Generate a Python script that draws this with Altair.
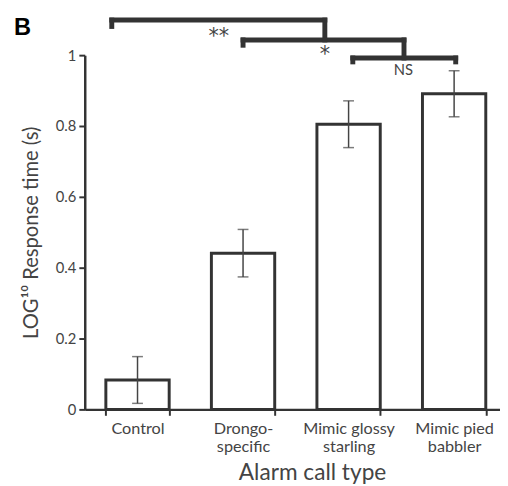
import altair as alt
import pandas as pd

# ---- data ----
categories = ["Control", "Drongo-|specific", "Mimic glossy|starling", "Mimic pied|babbler"]
means = [0.083, 0.441, 0.805, 0.891]
errors = [0.066, 0.067, 0.066, 0.065]

# significance brackets (x in category units, 0..4; y in LOG10 response time units)
h_x1 = [0.256, 1.50, 2.54]
h_x2 = [2.275, 3.025, 3.515]
h_y = [1.099, 1.043, 0.992]

v_x = [0.256, 2.275, 1.50, 3.025, 2.54, 3.515]
v_y = [1.099, 1.099, 1.043, 1.043, 0.992, 0.992]
v_y2 = [1.081, 1.043, 1.028, 0.992, 0.981, 0.981]

star_labels = ["**", "*"]
star_x = [1.27, 2.275]
star_y = [1.052, 0.999]

ns_labels = ["NS"]
ns_x = [3.02]
ns_y = [0.958]

panel_label = ["B"]
panel_x = [-0.671]
panel_y = [1.056]

FONT = "Lato"
DARK = "#333333"
GREY = "#444444"

df = pd.DataFrame({
    "cat": categories,
    "mean": means,
    "lo": [m - e for m, e in zip(means, errors)],
    "hi": [m + e for m, e in zip(means, errors)],
})
hdf = pd.DataFrame({"x1": h_x1, "x2": h_x2, "y": h_y})
vdf = pd.DataFrame({"x": v_x, "y": v_y, "y2": v_y2})
stars = pd.DataFrame({"t": star_labels, "x": star_x, "y": star_y})
nsdf = pd.DataFrame({"t": ns_labels, "x": ns_x, "y": ns_y})
pdf = pd.DataFrame({"t": panel_label, "x": panel_x, "y": panel_y})

yscale = alt.Scale(domain=[0, 1], nice=False, zero=True)
xband = alt.Scale(range=[0, 429], paddingInner=0.4, paddingOuter=0.2)
xq = alt.Scale(domain=[0, 4], range=[0, 429], nice=False, zero=False)

x_axis = alt.Axis(
    title="Alarm call type", labelAngle=0, tickBand="extent",
    labelExpr="split(datum.label, '|')", labelFont=FONT, labelFontSize=16.5,
    labelColor=GREY, labelLineHeight=18, labelPadding=6,
    tickSize=6, tickWidth=2, tickColor=DARK, domainColor=DARK, domainWidth=2.5,
    titleFont=FONT, titleFontSize=23, titleFontWeight="normal", titleColor=GREY,
    titleX=231, titleY=71, titleBaseline="alphabetic", titleAlign="center",
    grid=False,
)
y_axis = alt.Axis(
    title="LOG\u00b9\u2070 Response time (s)", values=[0, 0.2, 0.4, 0.6, 0.8, 1],
    format="~g", labelFont=FONT, labelFontSize=15, labelColor=GREY, labelPadding=3,
    tickSize=6, tickWidth=2, tickColor=DARK, domainColor=DARK, domainWidth=2.5,
    titleFont=FONT, titleFontSize=20.5, titleFontWeight="normal", titleColor=GREY,
    titleX=-48, titleY=180, titleAngle=270, titleBaseline="alphabetic", titleAlign="center",
    grid=False,
)

base = alt.Chart(df)
bars = base.mark_bar(fill="white", stroke=DARK, strokeWidth=3).encode(
    x=alt.X("cat:N", sort=categories, scale=xband, axis=x_axis),
    y=alt.Y("mean:Q", scale=yscale, axis=y_axis),
)
stems = base.mark_rule(color=GREY, strokeWidth=1.5).encode(
    x=alt.X("cat:N", sort=categories), y=alt.Y("lo:Q"), y2="hi:Q"
)
cap_lo = base.mark_tick(color=GREY, thickness=1.5, size=11, orient="horizontal").encode(
    x=alt.X("cat:N", sort=categories), y=alt.Y("lo:Q")
)
cap_hi = base.mark_tick(color=GREY, thickness=1.5, size=11, orient="horizontal").encode(
    x=alt.X("cat:N", sort=categories), y=alt.Y("hi:Q")
)
data_layer = alt.layer(bars, stems, cap_lo, cap_hi)

hrules = alt.Chart(hdf).mark_rule(color=DARK, strokeWidth=5, strokeCap="square").encode(
    x=alt.X("x1:Q", scale=xq, axis=None), x2="x2:Q", y=alt.Y("y:Q", scale=yscale)
)
vrules = alt.Chart(vdf).mark_rule(color=DARK, strokeWidth=5, strokeCap="square").encode(
    x=alt.X("x:Q", scale=xq, axis=None), y=alt.Y("y:Q", scale=yscale), y2="y2:Q"
)
star_text = alt.Chart(stars).mark_text(
    color=GREY, baseline="middle", align="center", font="DejaVu Sans", fontSize=21
).encode(
    x=alt.X("x:Q", scale=xq, axis=None), y=alt.Y("y:Q", scale=yscale), text="t:N"
)
ns_text = alt.Chart(nsdf).mark_text(
    color=GREY, baseline="middle", align="center", font=FONT, fontSize=15
).encode(
    x=alt.X("x:Q", scale=xq, axis=None), y=alt.Y("y:Q", scale=yscale), text="t:N"
)
panel_text = alt.Chart(pdf).mark_text(
    color="black", baseline="alphabetic", align="left", font="Liberation Sans",
    fontSize=24, fontWeight="bold"
).encode(
    x=alt.X("x:Q", scale=xq, axis=None), y=alt.Y("y:Q", scale=yscale), text="t:N"
)
ann_layer = alt.layer(hrules, vrules, star_text, ns_text, panel_text)

chart = alt.layer(data_layer, ann_layer).resolve_scale(x="independent").properties(
    width=422, height=360,
    autosize=alt.AutoSizeParams(type="none"),
    padding={"left": 78, "top": 44, "right": 0, "bottom": 78},
).configure_view(stroke=None)

chart.save("out.html", embed_options={"renderer": "svg", "actions": False})
